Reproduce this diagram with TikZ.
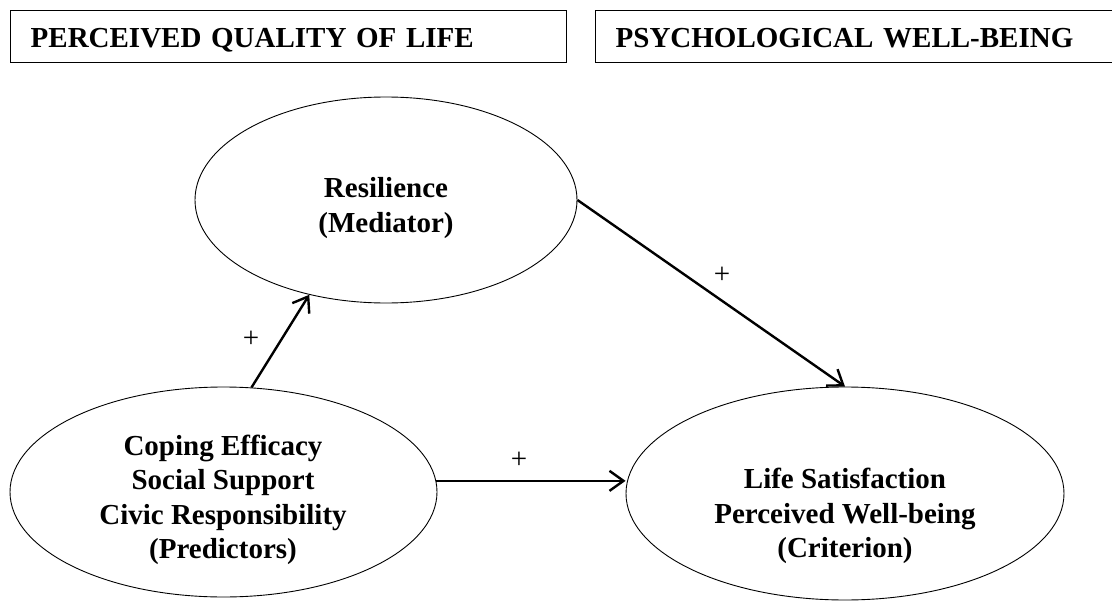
\documentclass[tikz,border=0pt]{standalone}
\usepackage{fontspec}
\setmainfont{Liberation Serif}
\usetikzlibrary{shapes.geometric,arrows.meta}

\begin{document}
\begin{tikzpicture}[x=1pt,y=-1pt,
  construct/.style={draw, ellipse, line width=0.9pt, inner sep=0pt},
  caption/.style={font=\fontsize{29}{34.5}\selectfont\bfseries, align=center, inner sep=0pt},
  titlebox/.style={draw, line width=1.4pt, anchor=north west, minimum height=52pt,
    inner xsep=20pt, text height=21pt, text depth=0pt, align=left,
    font=\fontsize{29}{34.5}\selectfont\bfseries},
  link/.style={line width=2.4pt, -{Straight Barb[length=14pt,width=20pt]}},
  sign/.style={font=\fontsize{29}{34.5}\selectfont, inner sep=0pt}
]
\useasboundingbox (0,0) rectangle (1112,602);

% headings
\node[titlebox, text width=516pt] (qol) at (10,10) {PERCEIVED QUALITY OF LIFE};
\node[titlebox, text width=480pt] (pwb) at (595,10) {PSYCHOLOGICAL WELL-BEING};

% constructs
\node[construct, minimum width=382pt, minimum height=206pt] (res) at (386,200) {};
\node[construct, minimum width=427pt, minimum height=210pt] (pred) at (223.5,492) {};
\node[construct, minimum width=438pt, minimum height=213pt] (crit) at (845,493.5) {};

\node[caption] (restext) at (386,208) {Resilience\\(Mediator)};
\node[caption] (predtext) at (223,500) {Coping Efficacy\\Social Support\\Civic Responsibility\\(Predictors)};
\node[caption] (crittext) at (845,516) {Life Satisfaction\\Perceived Well-being\\(Criterion)};

% paths
\draw[link] (pred.75) -- (res.231);
\draw[link] (res.east) -- (crit.north);
\draw[link] (pred.3) -- (pred.3 -| crit.west);

% signs
\node[sign] (s1) at (251,339) {+};
\node[sign] (s2) at (722,275) {+};
\node[sign] (s3) at (519,460) {+};
\end{tikzpicture}
\end{document}
